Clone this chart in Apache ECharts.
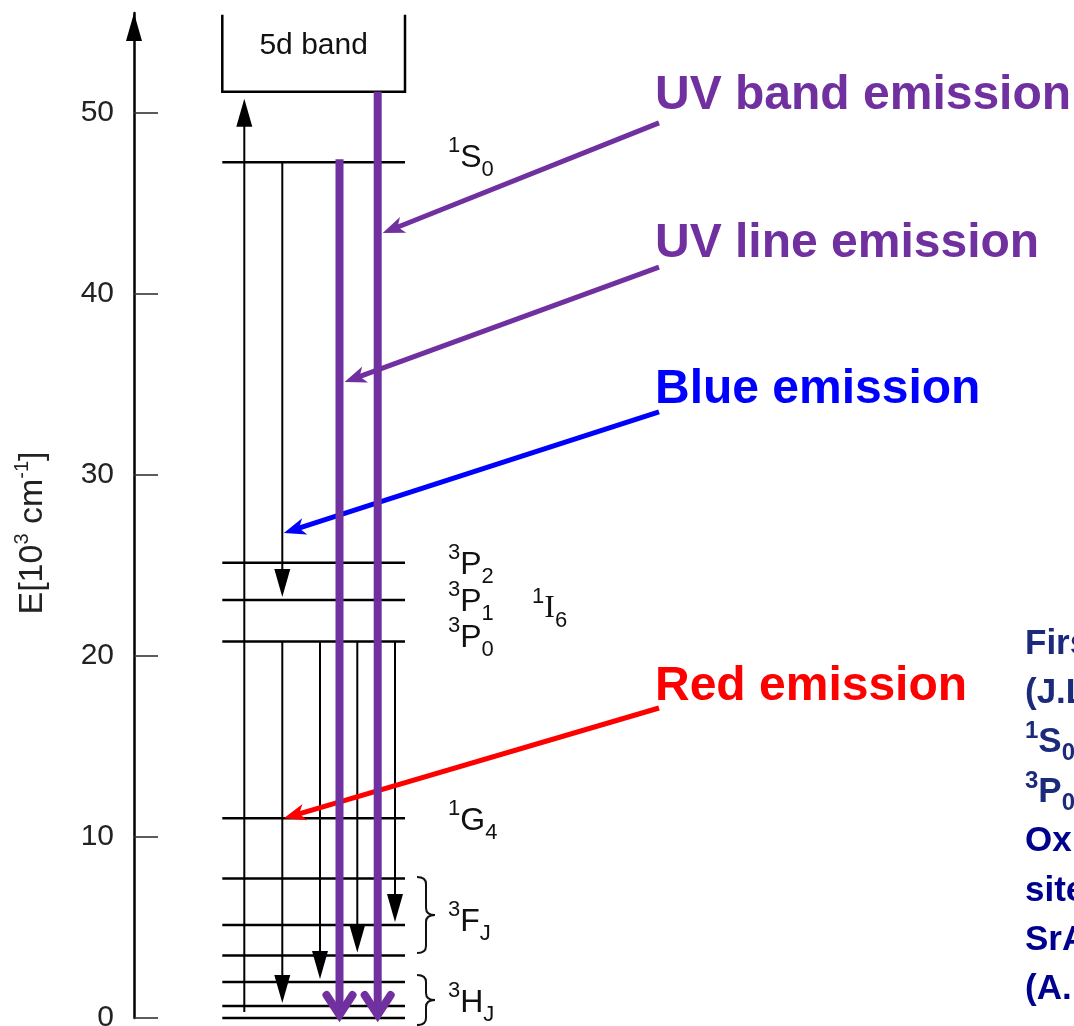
<!DOCTYPE html>
<html>
<head>
<meta charset="utf-8">
<script src="https://cdn.jsdelivr.net/npm/echarts@6/dist/echarts.min.js"></script>
<style>
html,body{margin:0;padding:0;background:#fff;}
#c{width:1074px;height:1026px;}
</style>
</head>
<body>
<div id="c"></div>
<script>
// ================= DATA =================
const yTickValues = [0, 10, 20, 30, 40, 50];

// Pr3+ energy levels (10^3 cm^-1)
const levelNames  = ['3H4', '3H5', '3H6', '3F2', '3F3', '3F4', '1G4', '3P0', '3P1', '3P2', '1S0'];
const levelEnergy = [0, 0.66, 1.99, 3.45, 5.14, 7.71, 11.03, 20.79, 23.08, 25.14, 47.26];

const bandName   = '5d band';
const bandBottom = 51.15;
const bandTop    = 55.4;

// transitions
const transFrom = ['3H4', '1S0', '3P0', '3P0', '3P0', '3P0', '1S0', '5d'];
const transTo   = ['5d',  '3P1', '3H5', '3H6', '3F2', '3F3', '3H4', '3H4'];
const transKind = ['up', 'down', 'down', 'down', 'down', 'down', 'uv', 'uv'];

// level labels
const labelSup    = ['1', '3', '3', '3', '1', '1', '3', '3'];
const labelTerm   = ['S', 'P', 'P', 'P', 'I', 'G', 'F', 'H'];
const labelSub    = ['0', '2', '1', '0', '6', '4', 'J', 'J'];
const labelEnergy = [47.49, 25.02, 22.97, 20.98, 22.61, 10.88, 5.30, 0.83];

// braces grouping multiplets (energy range)
const braceTopE = [7.78, 2.37];
const braceBotE = [3.59, -0.39];

// annotations
const annotTexts  = ['UV band emission', 'UV line emission', 'Blue emission', 'Red emission'];
const annotTrans  = [7, 6, 1, 2];          // transition pointed at
const annotFromE  = [49.43, 41.47, 33.47, 17.12];
const annotToE    = [43.35, 35.12, 26.78, 11.03];
const annotTextE  = [50.94, 42.74, 34.68, 18.28];

// side notes
const noteLines = [
  'First quantum cutting phosphor',
  '(J.L. Sommerdijk et al., 1974)',
  '{sup|1}S{sub|0} \u2192 {sup|1}I{sub|6} and',
  '{sup|3}P{sub|0} \u2192 {sup|1}G{sub|4}',
  'Oxide host with a large',
  'site for Pr{sup|3+}:',
  'SrAl{sub|12}O{sub|19}:Pr{sup|3+}',
  '(A.M. Srivastava et al.)'
];

// ================= LAYOUT / STYLE =================
const FONT = "'Liberation Sans', Arial, Helvetica, sans-serif";
const PURPLE = '#7030A0';
const annotColors = [PURPLE, PURPLE, '#0000FF', '#FF0000'];
const LAYOUT = {
  levelX: [8.83, 27.1],
  transX: [11.03, 14.83, 14.83, 18.6, 22.33, 26.1, 20.55, 24.37],
  labelX: [31.4, 31.4, 31.4, 31.4, 39.8, 31.4, 31.4, 31.4],
  braceX: [28.3, 30.1],
  annotStartX: 52.5,
  annotTextX: 52.1
};

function energyOf(name) {
  return name === '5d' ? bandBottom : levelEnergy[levelNames.indexOf(name)];
}

const chart = echarts.init(document.getElementById('c'), null, {renderer: 'canvas', width: 1074, height: 1026});

const transData = transFrom.map((f, i) => [LAYOUT.transX[i], energyOf(f), energyOf(transTo[i]), i]);

const labelRich = {
  sup:   {fontSize: 22, lineHeight: 22, verticalAlign: 'top', fontFamily: FONT, fill: '#111'},
  b:     {fontSize: 32, lineHeight: 46, verticalAlign: 'middle', fontFamily: FONT, fill: '#111'},
  serif: {fontSize: 32, lineHeight: 46, verticalAlign: 'middle', fontFamily: "'Liberation Serif', 'DejaVu Serif', serif", fill: '#111'},
  sub:   {fontSize: 22, lineHeight: 22, verticalAlign: 'bottom', fontFamily: FONT, fill: '#111'}
};

const option = {
  animation: false,
  backgroundColor: '#ffffff',
  grid: {left: 134, right: 0, top: 13, bottom: 8, containLabel: false, outerBoundsMode: 'none'},
  xAxis: {type: 'value', min: 0, max: 94, show: false},
  yAxis: {
    type: 'value', min: 0, max: 55.5,
    splitLine: {show: false},
    axisLine: {
      show: true,
      lineStyle: {color: '#000', width: 2.5},
      symbol: ['none', 'triangle'],
      symbolSize: [16, 28],
      symbolOffset: [0, -14]
    },
    axisTick: {show: true, inside: true, length: 24, customValues: yTickValues, lineStyle: {color: '#333', width: 1.6}},
    axisLabel: {show: true, customValues: yTickValues, fontSize: 30, color: '#222', fontFamily: FONT, margin: 20}
  },
  graphic: [
    {
      type: 'text', x: 33, y: 533, rotation: Math.PI / 2, silent: true,
      style: {
        text: '{b|E[10}{sup|3}{b| cm}{sup|-1}{b|]}',
        align: 'center', verticalAlign: 'middle',
        rich: {
          b:   {fontSize: 34, lineHeight: 42, verticalAlign: 'middle', fontFamily: FONT, fill: '#222'},
          sup: {fontSize: 20, lineHeight: 20, verticalAlign: 'top', fontFamily: FONT, fill: '#222'}
        }
      }
    }
  ].concat(noteLines.map((t, i) => ({
    type: 'text', x: 1025, y: 644 + i * 49.4, silent: true,
    style: {
      text: '{b|' + t.replace(/\{(sup|sub)\|([^}]*)\}/g, '}{$1|$2}{b|') + '}',
      align: 'left', verticalAlign: 'middle',
      rich: {
        b:   {fontSize: 35, lineHeight: 46, fontWeight: 'bold', verticalAlign: 'middle', fontFamily: FONT, fill: i < 4 ? '#1c2a7c' : '#00008f'},
        sup: {fontSize: 24, lineHeight: 24, fontWeight: 'bold', verticalAlign: 'top', fontFamily: FONT, fill: i < 4 ? '#1c2a7c' : '#00008f'},
        sub: {fontSize: 24, lineHeight: 24, fontWeight: 'bold', verticalAlign: 'bottom', fontFamily: FONT, fill: i < 4 ? '#1c2a7c' : '#00008f'}
      }
    }
  }))),
  series: [
    // energy levels
    {
      type: 'custom', z: 2, silent: true,
      data: levelEnergy.map((e, i) => [e, i]),
      renderItem: (params, api) => {
        const e = api.value(0);
        const a = api.coord([LAYOUT.levelX[0], e]);
        const b = api.coord([LAYOUT.levelX[1], e]);
        return {type: 'line', shape: {x1: a[0], y1: a[1], x2: b[0], y2: b[1]}, style: {stroke: '#000', lineWidth: 2.5}};
      }
    },
    // 5d band box
    {
      type: 'custom', z: 2, silent: true,
      data: [[bandBottom, bandTop]],
      renderItem: (params, api) => {
        const bot = api.value(0), top = api.value(1);
        const a = api.coord([LAYOUT.levelX[0], top]);
        const b = api.coord([LAYOUT.levelX[0], bot]);
        const c = api.coord([LAYOUT.levelX[1], bot]);
        const d = api.coord([LAYOUT.levelX[1], top]);
        const t = api.coord([(LAYOUT.levelX[0] + LAYOUT.levelX[1]) / 2, bot + 0.6 * (top - bot)]);
        return {type: 'group', children: [
          {type: 'polyline', shape: {points: [a, b, c, d]}, style: {stroke: '#000', lineWidth: 2.5, fill: null}},
          {type: 'text', x: t[0], y: t[1], style: {text: bandName, align: 'center', verticalAlign: 'middle', fontSize: 30, fontFamily: FONT, fill: '#111'}}
        ]};
      }
    },
    // thin black transitions
    {
      type: 'custom', z: 3, silent: true,
      data: transData.filter(d => transKind[d[3]] !== 'uv'),
      renderItem: (params, api) => {
        const i = api.value(3);
        const p1 = api.coord([api.value(0), api.value(1)]);
        const p2 = api.coord([api.value(0), api.value(2)]);
        const x = p1[0], L = 28, W = 8;
        if (transKind[i] === 'up') {
          const tip = p2[1] + 7, start = p1[1] - 6;
          return {type: 'group', children: [
            {type: 'line', shape: {x1: x, y1: start, x2: x, y2: tip + L - 2}, style: {stroke: '#000', lineWidth: 2}},
            {type: 'polygon', shape: {points: [[x - W, tip + L], [x + W, tip + L], [x, tip]]}, style: {fill: '#000'}}
          ]};
        }
        const tip = p2[1] - 3;
        return {type: 'group', children: [
          {type: 'line', shape: {x1: x, y1: p1[1], x2: x, y2: tip - L + 2}, style: {stroke: '#000', lineWidth: 2}},
          {type: 'polygon', shape: {points: [[x - W, tip - L], [x + W, tip - L], [x, tip]]}, style: {fill: '#000'}}
        ]};
      }
    },
    // braces
    {
      type: 'custom', z: 3, silent: true,
      data: braceTopE.map((t, i) => [t, braceBotE[i]]),
      renderItem: (params, api) => {
        const a = api.coord([LAYOUT.braceX[0], api.value(0)]);
        const b = api.coord([LAYOUT.braceX[1], api.value(1)]);
        const xl = a[0], xr = b[0], xm = (xl + xr) / 2;
        const yT = a[1], yB = b[1], yM = (yT + yB) / 2, r = 7;
        const st = {stroke: '#111', lineWidth: 2, fill: null};
        return {type: 'group', children: [
          {type: 'bezierCurve', shape: {x1: xl, y1: yT, cpx1: xm, cpy1: yT, x2: xm, y2: yT + r}, style: st},
          {type: 'line', shape: {x1: xm, y1: yT + r, x2: xm, y2: yM - r}, style: st},
          {type: 'bezierCurve', shape: {x1: xm, y1: yM - r, cpx1: xm, cpy1: yM, x2: xr, y2: yM}, style: st},
          {type: 'bezierCurve', shape: {x1: xr, y1: yM, cpx1: xm, cpy1: yM, x2: xm, y2: yM + r}, style: st},
          {type: 'line', shape: {x1: xm, y1: yM + r, x2: xm, y2: yB - r}, style: st},
          {type: 'bezierCurve', shape: {x1: xm, y1: yB - r, cpx1: xm, cpy1: yB, x2: xl, y2: yB}, style: st}
        ]};
      }
    },
    // annotation arrows + texts
    {
      type: 'custom', z: 4, silent: true,
      data: annotTexts.map((t, i) => [LAYOUT.annotStartX, annotFromE[i], annotToE[i], i]),
      renderItem: (params, api) => {
        const i = api.value(3);
        const k = annotTrans[i];
        const s = api.coord([api.value(0), api.value(1)]);
        const tb = api.coord([LAYOUT.transX[k], api.value(2)]);
        const tip = [tb[0] + (transKind[k] === 'uv' ? 5 : 1.5), tb[1]];
        const dx = tip[0] - s[0], dy = tip[1] - s[1];
        const len = Math.sqrt(dx * dx + dy * dy);
        const ux = dx / len, uy = dy / len, nx = -uy, ny = ux;
        const L = 22, W = 8.5, N = 6;
        const base = [tip[0] - ux * L, tip[1] - uy * L];
        const notch = [tip[0] - ux * (L - N), tip[1] - uy * (L - N)];
        const end = [tip[0] - ux * (L - N - 1), tip[1] - uy * (L - N - 1)];
        const tp = api.coord([LAYOUT.annotTextX, annotTextE[i]]);
        const col = annotColors[i];
        return {type: 'group', children: [
          {type: 'line', shape: {x1: s[0], y1: s[1], x2: end[0], y2: end[1]}, style: {stroke: col, lineWidth: 5}},
          {type: 'polygon', shape: {points: [tip, [base[0] + nx * W, base[1] + ny * W], notch, [base[0] - nx * W, base[1] - ny * W]]}, style: {fill: col}},
          {type: 'text', x: tp[0], y: tp[1], style: {text: annotTexts[i], align: 'left', verticalAlign: 'middle', fontSize: 48, fontWeight: 'bold', fontFamily: FONT, fill: col}}
        ]};
      }
    },
    // purple UV transitions
    {
      type: 'custom', z: 5, silent: true,
      data: transData.filter(d => transKind[d[3]] === 'uv'),
      renderItem: (params, api) => {
        const i = api.value(3);
        const p1 = api.coord([api.value(0), api.value(1)]);
        const p2 = api.coord([api.value(0), api.value(2)]);
        const x = p1[0];
        const top = p1[1] - (transFrom[i] === '5d' ? 0 : 3);
        const tip = p2[1] - 3;
        return {type: 'group', children: [
          {type: 'line', shape: {x1: x, y1: top, x2: x, y2: tip - 2}, style: {stroke: PURPLE, lineWidth: 8}},
          {type: 'polyline', shape: {points: [[x - 13, tip - 20], [x, tip], [x + 13, tip - 20]]}, style: {stroke: PURPLE, lineWidth: 8, lineCap: 'round', lineJoin: 'miter', fill: null}}
        ]};
      }
    },
    // level labels
    {
      type: 'custom', z: 6, silent: true,
      data: labelTerm.map((t, i) => [LAYOUT.labelX[i], labelEnergy[i], i]),
      renderItem: (params, api) => {
        const i = api.value(2);
        const p = api.coord([api.value(0), api.value(1)]);
        const termStyle = labelTerm[i] === 'I' ? 'serif' : 'b';
        return {type: 'text', x: p[0], y: p[1], style: {
          text: '{sup|' + labelSup[i] + '}{' + termStyle + '|' + labelTerm[i] + '}{sub|' + labelSub[i] + '}',
          align: 'left', verticalAlign: 'middle', rich: labelRich
        }};
      }
    }
  ]
};
chart.setOption(option);
</script>
</body>
</html>
